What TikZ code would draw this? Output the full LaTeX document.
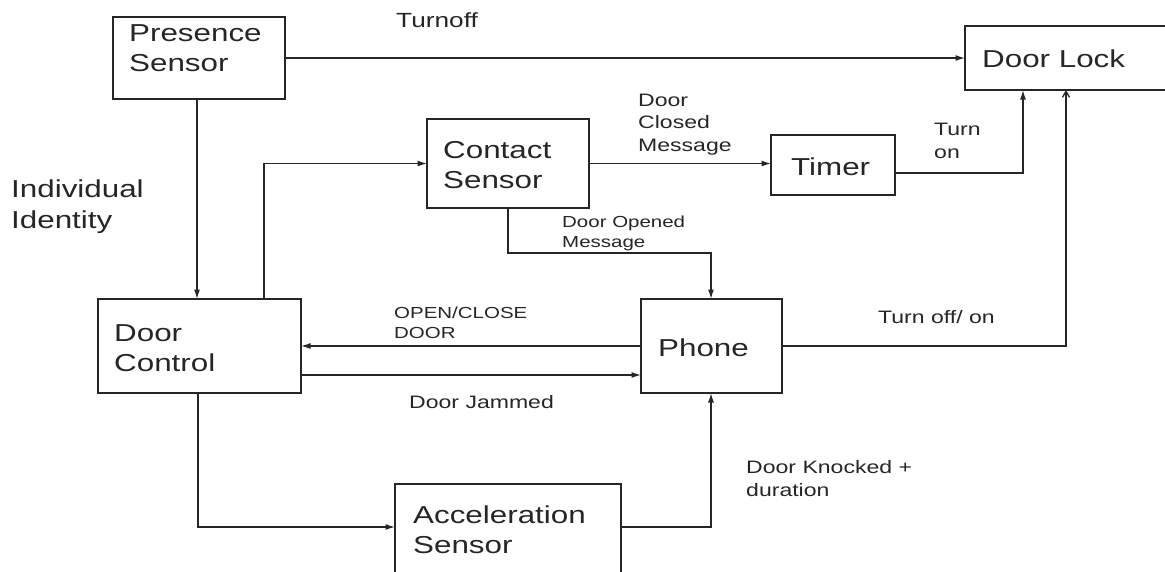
\documentclass[tikz,border=0pt]{standalone}
\usepackage{fontspec}
\setmainfont{Liberation Sans}[FakeStretch=1.28]
\usetikzlibrary{arrows.meta}
\tikzset{
  box/.style={draw=black!85, line width=1.3pt, inner sep=0pt, outer sep=0pt, anchor=north west},
  conn/.style={draw=black!85, line width=1.3pt},
  arr/.style={conn, -{Latex[length=9.5pt,width=6pt]}},
  barb/.style={conn, -{Straight Barb[length=6pt,width=7pt]}},
  boxtext/.style={anchor=base west, inner sep=0pt, align=left, text=black!85, font=\fontsize{24.5}{30}\selectfont},
  bigtext/.style={anchor=base west, inner sep=0pt, align=left, text=black!85, font=\fontsize{24.5}{31}\selectfont},
  toptext/.style={anchor=base west, inner sep=0pt, align=left, text=black!85, font=\fontsize{20.5}{24}\selectfont},
  medtext/.style={anchor=base west, inner sep=0pt, align=left, text=black!85, font=\fontsize{18}{22.5}\selectfont},
  smalltext/.style={anchor=base west, inner sep=0pt, align=left, text=black!85, font=\fontsize{16}{19.5}\selectfont},
}
\begin{document}
\begin{tikzpicture}[x=1pt, y=-1pt]
\useasboundingbox (0,0) rectangle (1165,571);
\clip (0,0) rectangle (1165,571);
% boxes
\node[box, minimum width=172pt, minimum height=82pt] (pres) at (113,17) {};
\node[box, minimum width=215pt, minimum height=64pt] (lock) at (965,26) {};
\node[box, minimum width=162pt, minimum height=89pt] (contact) at (427,119) {};
\node[box, minimum width=124pt, minimum height=60pt] (timer) at (771,135) {};
\node[box, minimum width=203pt, minimum height=94pt] (ctrl) at (98,299) {};
\node[box, minimum width=141pt, minimum height=94pt] (phone) at (641,299) {};
\node[box, minimum width=226pt, minimum height=101pt] (accel) at (395,484) {};
% box texts (anchored at the baseline of the last line)
\node[boxtext] (pres-t) at (129,71) {Presence\\Sensor};
\node[boxtext] (lock-t) at (982,67) {Door Lock};
\node[boxtext] (contact-t) at (443,188) {Contact\\Sensor};
\node[boxtext] (timer-t) at (791,175) {Timer};
\node[boxtext] (ctrl-t) at (114,371) {Door\\Control};
\node[boxtext] (phone-t) at (658,356) {Phone};
\node[boxtext] (accel-t) at (413,553) {Acceleration\\Sensor};
% labels
\node[bigtext] (ident) at (11,228) {Individual\\Identity};
\node[toptext] (turnoff) at (396,27) {Turnoff};
\node[medtext] (closed) at (638,151) {Door\\Closed\\Message};
\node[medtext] (turnon) at (934,158) {Turn\\on};
\node[smalltext] (opened) at (562,247) {Door Opened\\Message};
\node[smalltext] (openclose) at (394,338) {OPEN/CLOSE\\DOOR};
\node[medtext] (jammed) at (409,408) {Door Jammed};
\node[medtext] (offon) at (878,323) {Turn off/ on};
\node[medtext] (knocked) at (746,496) {Door Knocked +\\duration};
% connectors
\draw[arr] (pres.east) -- (lock.west);
\draw[arr] ([xshift=84pt]pres.south west) -- ([xshift=84pt]pres.south west |- ctrl.north);
\draw[arr] ([xshift=166pt]ctrl.north west) |- (contact.west);
\draw[arr] (contact.east) -- (contact.east -| timer.west);
\draw[arr] ([yshift=-8pt]timer.east) -| ([xshift=58pt]lock.south west);
\draw[arr] ([xshift=81pt]contact.south west) -- ++(0,45) -| ([xshift=70pt]phone.north west);
\draw[arr] (phone.west) -- (ctrl.east);
\draw[arr] ([yshift=-29pt]ctrl.east) -- ([yshift=-29pt]ctrl.east -| phone.west);
\draw[arr] ([xshift=100pt]ctrl.south west) |- ([yshift=-43pt]accel.north west);
\draw[arr] ([yshift=-43pt]accel.north east) -| ([xshift=70pt]phone.south west);
\draw[barb] (phone.east) -| ([xshift=101pt]lock.south west);
\end{tikzpicture}
\end{document}
